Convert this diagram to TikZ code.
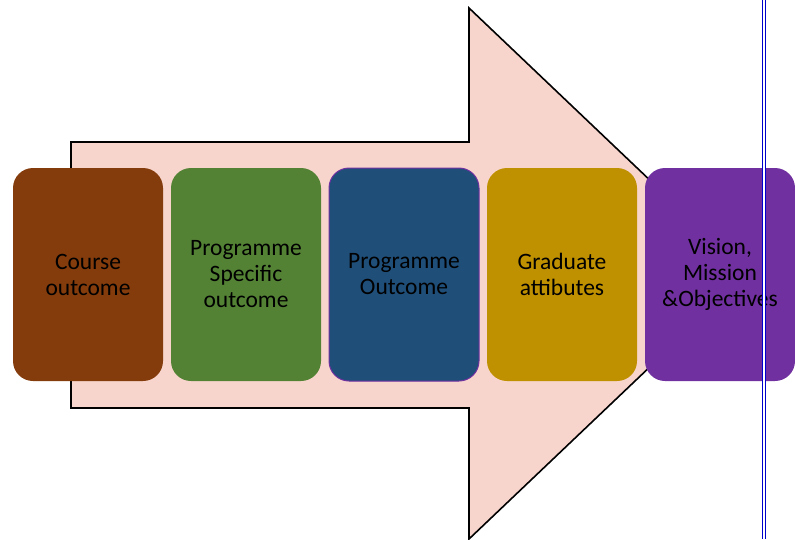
\documentclass[tikz,border=0pt]{standalone}
\usepackage{fontspec}
\setmainfont{Carlito}
\usepackage{xcolor}
\usetikzlibrary{positioning}
\definecolor{arrowpink}{HTML}{F8D5CC}
\definecolor{cobrown}{HTML}{843C0C}
\definecolor{psogreen}{HTML}{548235}
\definecolor{poblue}{HTML}{1F4E79}
\definecolor{gagold}{HTML}{BF9000}
\definecolor{vmpurple}{HTML}{7030A0}
\definecolor{marginblue}{HTML}{0000CC}
\tikzset{stepbox/.style={rounded corners=20pt, minimum width=150pt, minimum height=213pt,
  inner sep=0pt, outer sep=0pt, align=center, text=black,
  font=\fontsize{23.5}{26}\selectfont}}

\begin{document}
\begin{tikzpicture}[x=1pt,y=-1pt]
\useasboundingbox (0,0) rectangle (795,539);
%% big arrow
\draw[line width=1.6pt, fill=arrowpink] (71,142) -- (469,142) -- (469,8) -- (748,273.5)
  -- (469,539) -- (469,408) -- (71,408) -- cycle;
%% steps
\node[stepbox, fill=cobrown] (co) at (88,274.5) {Course\\outcome};
\node[stepbox, fill=psogreen, right=8pt of co] (pso) {Programme\\Specific\\outcome};
\node[stepbox, fill=poblue, draw=vmpurple, line width=1pt, right=8pt of pso] (po) {Programme\\Outcome};
\node[stepbox, fill=gagold, right=8pt of po] (ga) {Graduate\\attibutes};
\node[stepbox, fill=vmpurple, right=8pt of ga] (vmo) {Vision,\\Mission\\\&Objectives};
%% margin line
\draw[marginblue, line width=1.4pt, double=white, double distance=1.6pt] (764,0) -- (764,539);
\end{tikzpicture}
\end{document}
